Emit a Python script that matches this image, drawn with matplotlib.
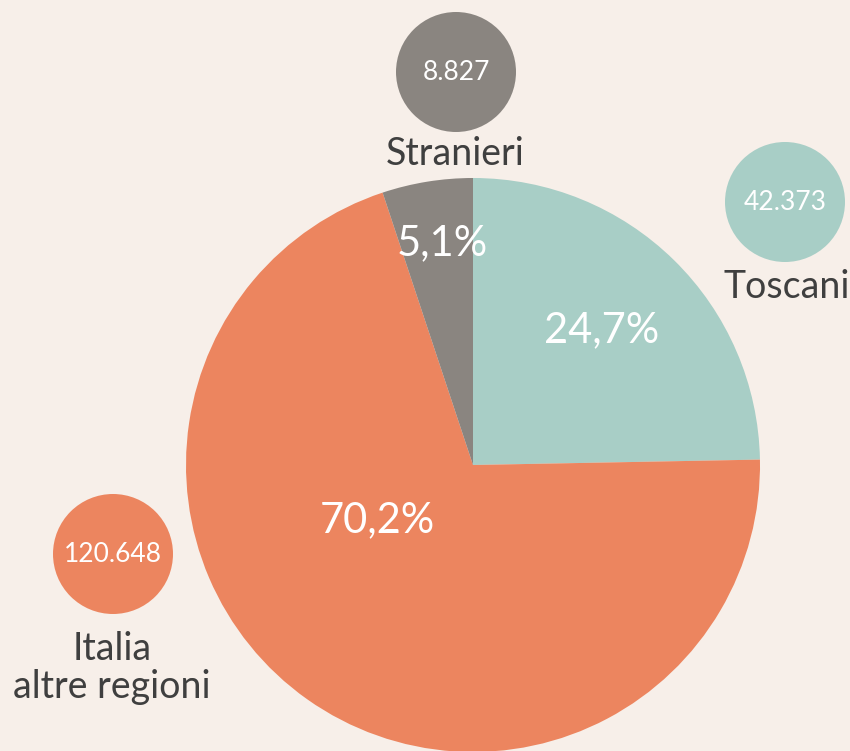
import matplotlib.pyplot as plt

labels = ["Toscani", "Italia\naltre regioni", "Stranieri"]
counts = ["42.373", "120.648", "8.827"]
shares = [24.7, 70.2, 5.1]
share_text = ["24,7%", "70,2%", "5,1%"]
colors = ["#a8cec6", "#ec855f", "#8a8580"]

bg = "#f7efe9"
dark = "#3f3f3f"
plt.rcParams['font.family'] = ['Lato', 'DejaVu Sans']

fig = plt.figure(figsize=(8.5, 7.51), dpi=100, facecolor=bg)
ax = fig.add_axes([0, 0, 1, 1])
ax.set_facecolor(bg)

# main pie (pixel coords, y measured from bottom)
ax.pie(shares, colors=colors, startangle=90, counterclock=False,
       center=(473, 751 - 465), radius=287, frame=True,
       wedgeprops=dict(linewidth=0))
ax.set_xlim(0, 850)
ax.set_ylim(0, 751)
ax.set_aspect('equal')
ax.axis('off')

pct_pos = [(602, 330), (377, 520), (442, 243)]
for (x, y), t in zip(pct_pos, share_text):
    ax.text(x, 751 - y, t, color='white', fontsize=30, ha='center', va='center')

# bubbles with absolute numbers
bubble_pos = [(785, 202), (113, 554), (456, 72)]
label_pos = [(787, 287), (112, 668), (455, 154)]
for (bx, by), (lx, ly), c, n, lab in zip(bubble_pos, label_pos, colors, counts, labels):
    ax.add_patch(plt.Circle((bx, 751 - by), 60, color=c, lw=0))
    ax.text(bx, 751 - by, n, color='white', fontsize=19, ha='center', va='center')
    ax.text(lx, 751 - ly, lab, color=dark, fontsize=27, ha='center', va='center',
            linespacing=1.1)

fig.savefig("out.png", dpi=100, facecolor=bg)
